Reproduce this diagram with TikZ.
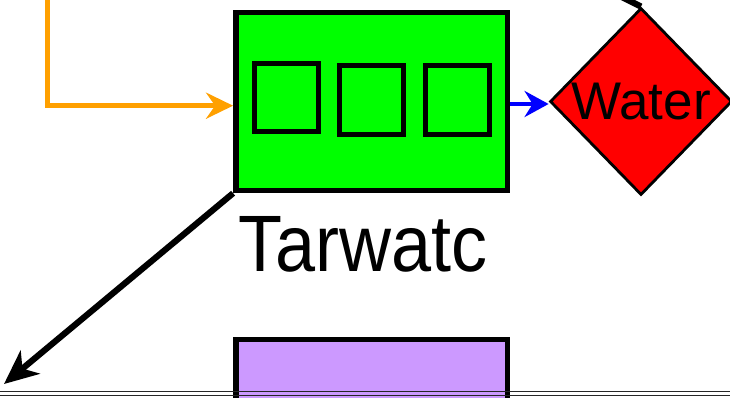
\documentclass[tikz,border=0pt]{standalone}
\usepackage{fontspec}
\setmainfont{Liberation Sans}
\usetikzlibrary{arrows.meta,shapes.geometric,calc}
\definecolor{boxgreen}{HTML}{00FF00}
\definecolor{boxpurple}{HTML}{CC99FF}
\definecolor{flowyellow}{HTML}{FFA000}
\tikzset{
  outerbox/.style={draw=black, line width=5.4pt, inner sep=0pt},
  slot/.style={draw=black, line width=4.8pt, inner sep=0pt},
  valve/.style={diamond, draw=black, fill=red, line width=2.8pt, inner sep=0pt,
    minimum width=182pt, minimum height=187pt,
    font=\fontsize{53}{60}\selectfont},
  feed/.style={draw=flowyellow, line width=4.8pt,
    -{Stealth[length=27pt,width=26pt,inset=9pt]}},
  outflow/.style={draw=blue, line width=4.6pt,
    -{Stealth[length=24pt,width=26pt,inset=8pt]}},
  heavy/.style={draw=black, line width=6.2pt},
  rail/.style={draw=black!85, line width=1.4pt}
}
\begin{document}
\begin{tikzpicture}[x=1pt, y=-1pt]
  \useasboundingbox (0,0) rectangle (730,398);
  \clip (0,0) rectangle (730,398);

  % main tank with its three compartments
  \node[outerbox, fill=boxgreen, minimum width=271.7pt, minimum height=178pt]
    (tank) at (371.65,101.5) {};
  \node[slot, minimum width=64pt, minimum height=68.6pt] (slotA) at (286.2,97.5) {};
  \node[slot, minimum width=63.7pt, minimum height=69pt] (slotB) at (371.65,100.3) {};
  \node[slot, minimum width=64pt, minimum height=69pt] (slotC) at (457.2,100.3) {};

  % tank label
  \node[anchor=base, inner sep=0pt, font=\fontsize{80}{90}\selectfont]
    (tanklabel) at (363,271.7) {\scalebox{0.9}[1]{Tarwatc}};

  % water valve
  \node[valve] (valve) at (641,101.5) {Water};

  % lower tank, running past the bottom edge
  \node[outerbox, fill=boxpurple, minimum width=271.7pt, minimum height=90pt]
    (lower) at (371.65,384.2) {};

  % connector end points
  \coordinate (feedtop) at (47.7,-6);
  \coordinate (drainend) at (4,384);
  \coordinate (pipetop) at (608,-10);

  % connectors
  \draw[feed] (feedtop) |- ($(tank.west)+(0,4.2)$);
  \draw[outflow] (tank.east |- 0,104) -- (valve.west |- 0,104);
  \draw[heavy, -{Stealth[length=34pt,width=30pt,inset=10pt]}]
    (tank.south west) -- (drainend);
  \draw[heavy] (valve.north) -- (pipetop);

  % floor rails
  \coordinate (railL) at (0,391.7);
  \coordinate (railR) at (730,391.7);
  \draw[rail] (railL) -- (railR);
  \draw[rail] ($(railL)+(0,3.6)$) -- ($(railR)+(0,3.6)$);
\end{tikzpicture}
\end{document}
